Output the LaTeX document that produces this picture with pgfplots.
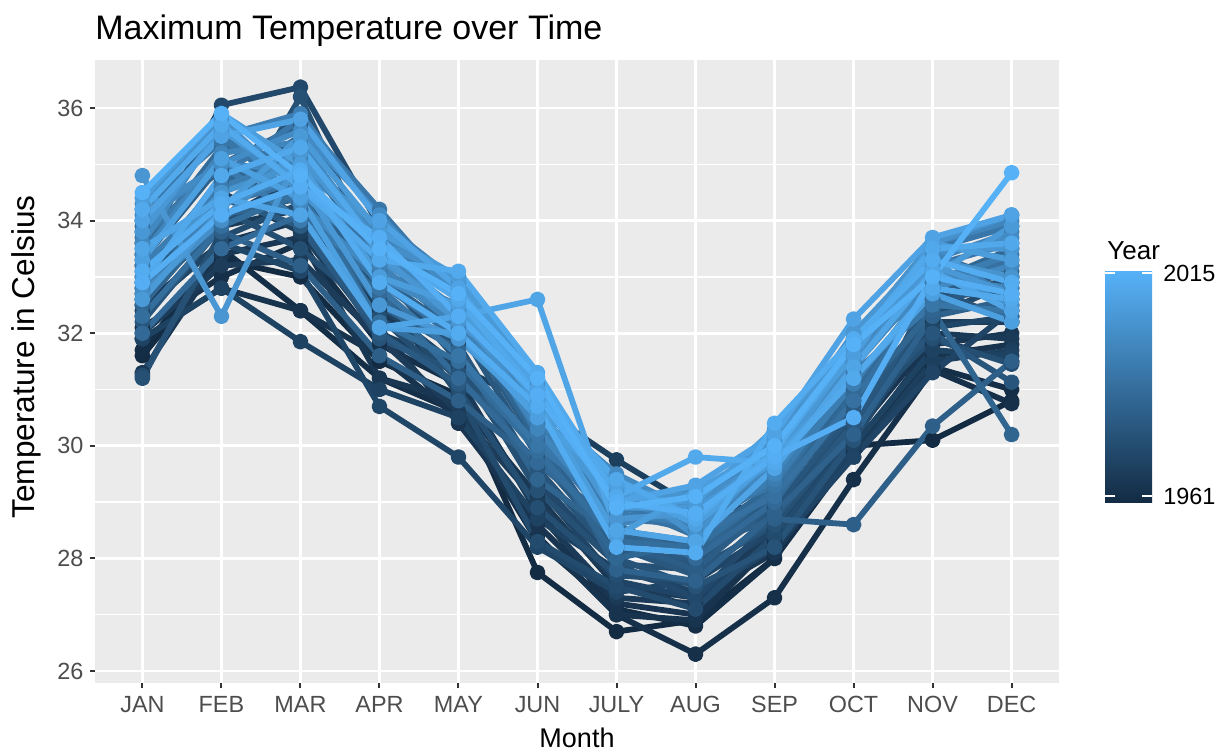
\documentclass[border=0pt]{standalone}
\usepackage{pgfplots}
\pgfplotsset{compat=1.18}
\usepackage{pgfplotstable}
\usepackage{fontspec}
\setmainfont{Liberation Sans}
\definecolor{lo}{HTML}{132B43}
\definecolor{hi}{HTML}{56B1F7}
\definecolor{panel}{HTML}{EBEBEB}
\definecolor{g30}{HTML}{4D4D4D}
\definecolor{g20}{HTML}{333333}

\pgfplotstableread{
year JAN FEB MAR APR MAY JUN JUL AUG SEP OCT NOV DEC
1961 31.6 33.3 33.0 31.5 30.9 27.75 26.7 26.9 28.0 30.0 30.1 30.8
1962 31.7 33.5 32.4 31.2 30.6 28.3 27.1 26.8 28.0 29.9 31.4 31.0
1963 32.1 33.0 33.6 31.8 31.1 28.9 27.0 26.3 27.3 29.4 31.35 30.75
1964 31.9 32.8 32.4 31.6 30.5 28.4 27.0 26.9 28.3 30.0 31.6 31.8
1965 32.5 33.6 34.0 32.1 30.4 28.6 27.2 27.0 28.4 30.2 31.9 31.5
1966 31.3 33.4 33.7 31.2 30.8 29.1 27.5 27.3 28.1 29.9 31.8 32.0
1967 32.3 33.9 34.2 32.4 31.2 28.8 27.3 27.2 28.6 30.3 32.0 31.9
1968 32.0 33.2 33.3 31.9 30.6 29.0 27.6 27.1 28.5 30.1 32.2 32.2
1969 33.2 34.5 33.8 32.0 31.4 30.7 29.75 28.9 28.9 29.8 31.5 31.7
1970 31.9 32.8 31.85 31.0 30.5 28.7 27.8 27.4 28.2 30.0 31.7 31.6
1971 32.6 34.0 34.8 32.5 31.4 29.3 27.6 27.3 28.2 29.8 31.3 32.4
1972 32.4 33.6 33.1 30.7 29.8 28.2 27.4 27.6 28.5 30.2 32.1 32.3
1973 33.4 36.05 36.37 33.9 31.6 29.4 27.9 27.3 28.7 30.4 32.4 32.5
1974 31.25 33.7 34.3 32.8 30.9 28.3 27.5 27.1 28.4 30.1 32.3 32.9
1975 32.7 34.2 33.5 32.3 31.0 28.9 27.7 27.6 28.8 30.5 31.9 31.45
1976 31.2 33.8 36.2 33.1 31.5 29.2 27.9 27.8 28.6 30.3 32.5 33.0
1977 33.6 35.1 34.0 31.9 31.3 29.6 28.0 27.5 28.2 30.1 32.8 32.2
1978 32.2 33.9 34.6 32.6 31.8 29.5 28.2 27.9 28.9 30.6 32.0 31.13
1979 33.0 34.6 35.5 33.2 32.1 29.8 28.2 27.7 28.7 30.4 32.6 32.8
1980 32.9 34.4 33.9 32.0 31.1 30.2 28.1 28.0 29.1 30.7 32.4 33.2
1981 33.3 35.0 35.7 33.6 32.3 30.0 28.3 27.8 29.0 30.9 32.9 32.7
1982 32.8 33.8 33.2 31.6 30.8 29.7 28.5 28.2 28.7 28.6 30.35 31.5
1983 33.8 34.9 34.6 33.0 32.0 30.4 27.8 27.6 28.8 30.2 32.3 32.6
1984 32.5 34.1 34.4 32.5 31.7 29.4 28.4 28.1 29.2 30.8 32.4 30.2
1985 33.1 34.7 35.2 33.3 32.4 30.1 28.0 28.3 29.3 31.0 32.9 33.5
1986 32.0 33.5 34.1 32.7 31.2 29.7 28.6 28.0 29.0 30.9 33.0 33.1
1987 33.5 35.3 34.9 33.9 32.8 30.3 28.8 28.5 29.4 31.4 33.4 32.9
1988 32.3 33.9 34.5 32.2 31.5 29.9 28.3 28.2 29.2 31.2 32.6 32.3
1989 33.9 35.6 34.2 32.9 31.9 30.6 29.0 28.4 29.1 30.8 32.8 33.3
1990 32.6 34.3 34.7 33.4 32.2 30.5 28.7 28.6 29.5 31.5 33.2 33.6
1991 34.2 35.4 35.0 32.8 31.6 30.0 28.9 28.7 29.3 31.3 32.5 32.4
1992 32.9 34.8 35.8 34.2 32.6 30.2 28.5 28.3 29.6 31.6 33.5 33.9
1993 33.7 35.0 34.0 33.1 32.5 30.9 29.0 28.8 29.8 31.6 33.1 33.0
1994 33.2 34.6 35.1 33.7 32.7 30.4 28.8 28.6 29.4 31.1 32.9 33.4
1995 34.0 35.5 35.9 34.0 32.9 30.8 29.2 29.1 29.9 31.8 33.5 32.6
1996 32.8 34.3 34.8 33.2 32.1 30.6 29.1 28.5 29.7 31.7 33.3 33.8
1997 33.4 35.2 35.4 33.5 32.4 30.3 28.6 28.9 30.1 31.9 33.6 34.0
1998 34.0 35.0 34.9 33.8 32.8 31.0 29.3 29.0 29.5 31.4 33.0 32.8
1999 33.6 35.7 34.3 33.0 32.3 30.7 29.5 28.8 29.6 31.6 32.8 33.2
2000 34.1 35.0 35.6 34.1 32.6 30.9 29.0 29.2 30.0 32.0 33.4 33.7
2001 32.7 34.0 35.3 33.6 33.0 31.1 28.9 29.0 29.8 31.5 33.1 32.5
2002 34.3 35.8 34.5 33.3 32.4 30.5 29.4 28.4 29.9 31.9 33.6 34.1
2003 33.0 34.5 35.0 33.9 32.9 31.2 29.2 29.1 30.1 31.8 33.3 33.0
2004 34.8 32.3 35.2 33.4 32.2 31.0 28.7 28.8 29.9 32.0 33.5 33.5
2005 33.8 35.6 34.7 32.5 31.9 30.6 28.9 28.9 29.7 31.7 33.2 32.7
2006 32.6 34.2 35.5 33.8 33.0 31.0 29.1 29.0 30.3 31.9 33.0 33.9
2007 34.4 35.9 35.0 33.0 32.5 30.8 28.4 29.2 30.0 31.6 33.6 33.3
2008 33.3 35.1 34.4 32.1 32.0 30.5 29.3 28.6 29.8 31.2 32.7 32.2
2009 34.0 35.5 35.8 34.0 32.8 31.0 29.0 29.3 30.2 32.25 33.7 34.1
2010 33.5 34.4 34.1 32.1 32.3 32.6 28.5 28.3 29.6 31.4 33.1 32.4
2011 32.9 34.8 35.3 33.5 32.6 30.9 29.4 28.7 29.9 31.8 33.5 33.6
2012 34.2 35.7 34.6 33.3 33.1 31.3 29.1 29.8 29.7 31.2 32.8 32.6
2013 33.1 34.3 34.9 32.9 32.0 30.7 28.2 28.1 30.4 31.9 33.3 32.9
2014 32.9 34.1 34.6 33.7 32.3 30.9 29.0 28.8 29.8 30.5 33.0 32.7
2015 34.5 35.9 34.8 33.5 32.7 31.2 28.9 29.1 30.0 31.8 33.0 34.85
}\raw
\pgfplotstabletranspose[colnames from=year]\T\raw

\begin{document}
\begin{tikzpicture}
\path[use as bounding box] (-47.5pt,-35pt) rectangle (564.5pt,341.5pt);
\pgfplotsforeachungrouped \y in {1961,...,2015}{%
  \pgfmathtruncatemacro\p{round((\y-1961)*100/54)}%
  \colorlet{c\y}{hi!\p!lo}%
}
\begin{axis}[
  at={(0,0)}, anchor=south west,
  width=482pt, height=311.5pt, scale only axis,
  xmin=0.4, xmax=12.6, ymin=25.787, ymax=36.853,
  axis background/.style={fill=panel},
  axis line style={draw=none},
  xtick={1,...,12},
  xticklabels={JAN,FEB,MAR,APR,MAY,JUN,JULY,AUG,SEP,OCT,NOV,DEC},
  ytick={26,28,...,36},
  minor ytick={27,29,...,35},
  xmajorgrids, ymajorgrids, yminorgrids,
  major grid style={white, line width=1.4pt},
  minor grid style={white, line width=0.7pt},
  tick align=outside, tick pos=left,
  major tick length=2.6pt, minor tick length=0pt,
  tick style={g20, line width=1pt},
  tick label style={font=\fontsize{11.7}{14}\selectfont, color=g30},
  xticklabel style={anchor=north, inner sep=0pt, yshift=-4pt},
  yticklabel style={anchor=east, inner sep=0pt, xshift=-3pt},
  /pgf/number format/assume math mode=true,
]
\pgfplotsinvokeforeach{1961,...,2015}{
  \addplot[color=c#1, line width=2.9pt, line join=round, mark=*, mark size=2.5pt, mark options={solid}]
    table[x expr=\coordindex+1, y=#1]{\T};
}
\end{axis}
\node[anchor=base west, inner sep=0pt] at (0pt,321.75pt) {\fontsize{17}{20}\selectfont Maximum Temperature over Time};
\node[anchor=base, inner sep=0pt] at (241pt,-32.5pt) {\fontsize{13.5}{16}\selectfont Month};
\node[rotate=90, anchor=base, inner sep=0pt] at (-30pt,163pt) {\fontsize{15.8}{19}\selectfont Temperature in Celsius};
\shade[bottom color=lo, top color=hi] (505pt,90pt) rectangle (528.5pt,205.5pt);
\draw[white, line width=0.6pt] (505pt,93.5pt) -- (510pt,93.5pt) (523.5pt,93.5pt) -- (528.5pt,93.5pt)
  (505pt,205pt) -- (510pt,205pt) (523.5pt,205pt) -- (528.5pt,205pt);
\node[anchor=west, inner sep=0pt] at (534pt,205pt) {\fontsize{11.7}{14}\selectfont 2015};
\node[anchor=west, inner sep=0pt] at (534pt,93.5pt) {\fontsize{11.7}{14}\selectfont 1961};
\node[anchor=base west, inner sep=0pt] at (506pt,211.5pt) {\fontsize{13}{16}\selectfont Year};
\end{tikzpicture}
\end{document}
